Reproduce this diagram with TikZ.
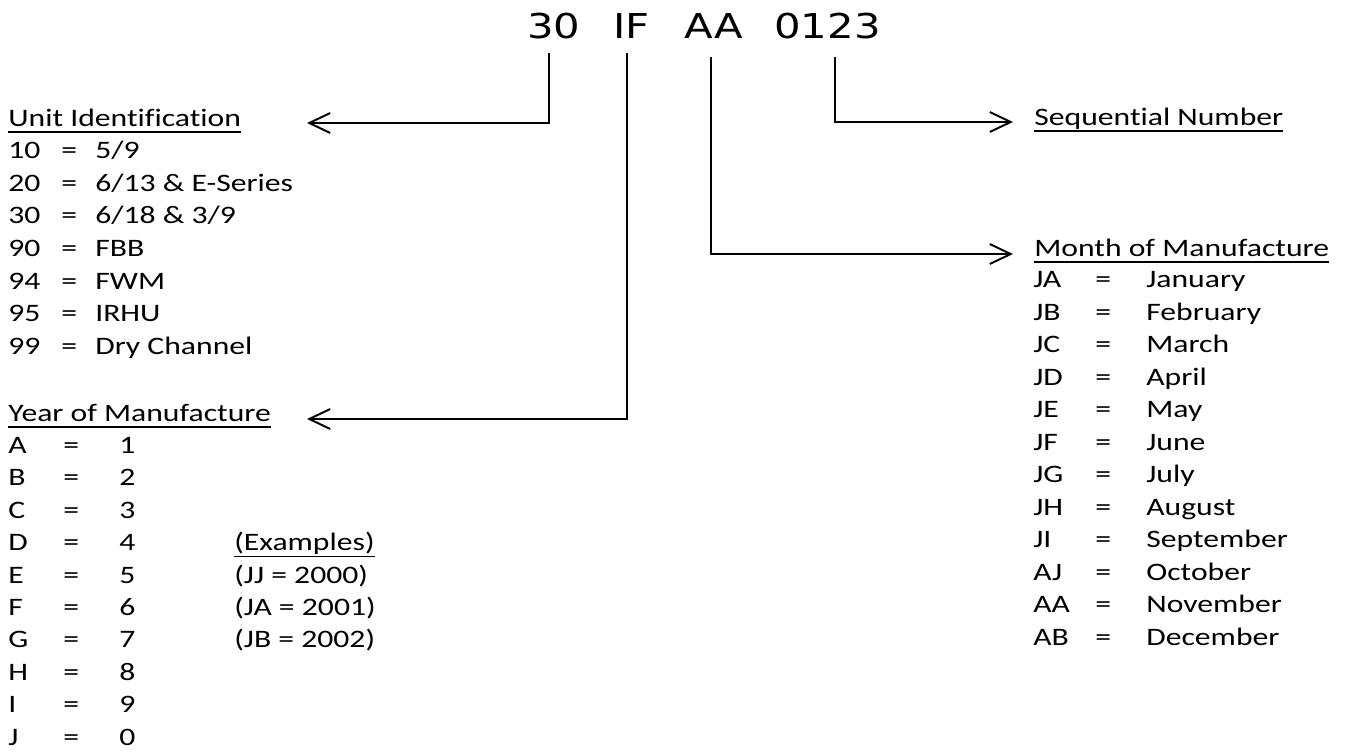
\documentclass[tikz,border=0pt]{standalone}
\usepackage{fontspec}
\setmainfont{Carlito}[FakeStretch=1.26,Ligatures=NoCommon]
\newfontfamily\codefont{DejaVu Sans}[FakeStretch=1.22]
\usetikzlibrary{arrows.meta,calc}
\newcommand{\ulhead}[1]{\setbox0\hbox{#1}\rlap{\rule[-3.8pt]{\wd0}{1pt}}\box0}
\newcommand{\unitrow}[2]{\makebox[1.06cm][l]{#1}\makebox[0.68cm][l]{=}#2}
\newcommand{\yearrow}[2]{\makebox[1.10cm][l]{#1}\makebox[1.12cm][l]{=}#2}
\newcommand{\monthrow}[2]{\makebox[1.24cm][l]{#1}\makebox[1.02cm][l]{=}#2}
\tikzset{
  entry/.style={anchor=base west,inner sep=0pt},
  heading/.style={anchor=base west,inner sep=0pt},
  code/.style={anchor=base west,inner sep=0pt,
    font=\codefont\fontsize{19.5}{23}\selectfont},
  link/.style={-{Straight Barb[length=0.42cm,width=0.40cm,line width=1.1pt]},
    line width=1.5pt}
}

\begin{document}
\begin{tikzpicture}[x=0.02cm,y=-0.02cm,font=\fontsize{14.3}{17}\selectfont]
\useasboundingbox (0,0) rectangle (1345,751);

% serial number
\node[code] (t30) at (527,38) {30};
\node[code] (tIF) at (613,38) {IF};
\node[code] (tAA) at (684,38) {AA};
\node[code] (t0123) at (774,38) {0123};

% unit identification
\node[heading] (unitHd) at (8,126) {\ulhead{Unit Identification}};
\node[entry] (u10) at (8,158.6) {\unitrow{10}{5/9}};
\node[entry] (u20) at (8,191.2) {\unitrow{20}{6/13 \& E-Series}};
\node[entry] (u30) at (8,223.8) {\unitrow{30}{6/18 \& 3/9}};
\node[entry] (u90) at (8,256.4) {\unitrow{90}{FBB}};
\node[entry] (u94) at (8,289.0) {\unitrow{94}{FWM}};
\node[entry] (u95) at (8,321.6) {\unitrow{95}{IRHU}};
\node[entry] (u99) at (8,354.2) {\unitrow{99}{Dry Channel}};

% year of manufacture
\node[heading] (yearHd) at (8,421) {\ulhead{Year of Manufacture}};
\node[entry] (yA) at (8,453.4) {\yearrow{A}{1}};
\node[entry] (yB) at (8,485.8) {\yearrow{B}{2}};
\node[entry] (yC) at (8,518.2) {\yearrow{C}{3}};
\node[entry] (yD) at (8,550.6) {\yearrow{D}{4}};
\node[entry] (yE) at (8,583.0) {\yearrow{E}{5}};
\node[entry] (yF) at (8,615.4) {\yearrow{F}{6}};
\node[entry] (yG) at (8,647.8) {\yearrow{G}{7}};
\node[entry] (yH) at (8,680.2) {\yearrow{H}{8}};
\node[entry] (yI) at (8,712.6) {\yearrow{I}{9}};
\node[entry] (yJ) at (8,745.0) {\yearrow{J}{0}};

% examples
\node[entry] (exHd) at (234,550.6) {\ulhead{(Examples)}};
\node[entry] (ex0) at (234,583.0) {(JJ = 2000)};
\node[entry] (ex1) at (234,615.4) {(JA = 2001)};
\node[entry] (ex2) at (234,647.8) {(JB = 2002)};

% sequential number
\node[heading] (seqHd) at (1034,125) {\ulhead{Sequential Number}};

% month of manufacture
\node[heading] (monthHd) at (1034,256) {\ulhead{Month of Manufacture}};
\node[entry] (mJA) at (1033,287.5) {\monthrow{JA}{January}};
\node[entry] (mJB) at (1033,320.0) {\monthrow{JB}{February}};
\node[entry] (mJC) at (1033,352.5) {\monthrow{JC}{March}};
\node[entry] (mJD) at (1033,385.0) {\monthrow{JD}{April}};
\node[entry] (mJE) at (1033,417.5) {\monthrow{JE}{May}};
\node[entry] (mJF) at (1033,450.0) {\monthrow{JF}{June}};
\node[entry] (mJG) at (1033,482.5) {\monthrow{JG}{July}};
\node[entry] (mJH) at (1033,515.0) {\monthrow{JH}{August}};
\node[entry] (mJI) at (1033,547.5) {\monthrow{JI}{September}};
\node[entry] (mAJ) at (1033,580.0) {\monthrow{AJ}{October}};
\node[entry] (mAA) at (1033,612.5) {\monthrow{AA}{November}};
\node[entry] (mAB) at (1033,645.0) {\monthrow{AB}{December}};

% connectors
\draw[link] ($(t30.base west)+(22,15)$) |- ($(unitHd.base west)+(299,-3)$);
\draw[link] ($(tIF.base west)+(14,15)$) |- ($(yearHd.base west)+(299,-2)$);
\draw[link] ($(tAA.base west)+(27,19)$) |- ($(monthHd.base west)+(-21,-2)$);
\draw[link] ($(t0123.base west)+(61,19)$) |- ($(seqHd.base west)+(-21,-3)$);

\end{tikzpicture}
\end{document}
